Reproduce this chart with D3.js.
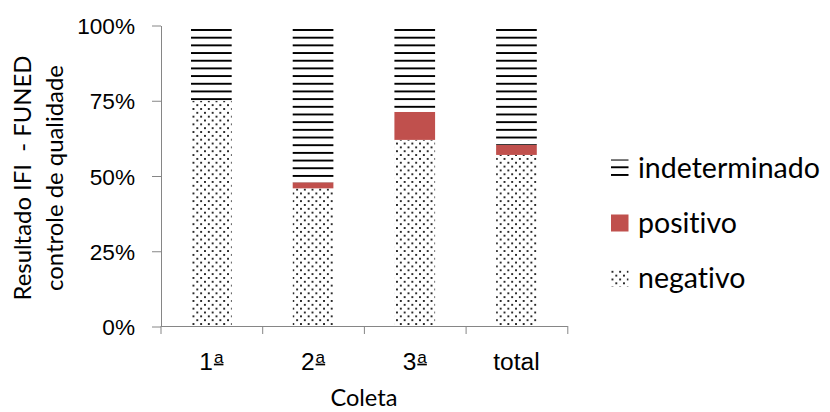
<!DOCTYPE html>
<html>
<head>
<meta charset="utf-8">
<script src="https://cdn.jsdelivr.net/npm/d3@7"></script>
<style>
  html, body { margin: 0; padding: 0; background: #fff; }
  svg { display: block; font-family: Lato, "Open Sans", sans-serif; }
  text { white-space: pre; font-variant-ligatures: none; font-feature-settings: "liga" 0, "clig" 0; }
</style>
</head>
<body>
<svg id="chart" width="830" height="412"></svg>
<script>
// Resultado IFI (FUNED) por coleta — 100% stacked columns
const categories    = ["1ª", "2ª", "3ª", "total"];
const negativo      = [0.75, 0.459, 0.62, 0.57];
const positivo      = [0.00, 0.020, 0.093, 0.033];
const indeterminado = [0.25, 0.521, 0.287, 0.397];
const seriesKeys    = ["negativo", "positivo", "indeterminado"];
const legendKeys    = ["indeterminado", "positivo", "negativo"];
const yTickValues   = [0, 0.25, 0.5, 0.75, 1];
const yTickLabels   = ["0%", "25%", "50%", "75%", "100%"];
const xTitle        = "Coleta";
const yTitleLines   = ["Resultado IFI  - FUNED", "controle de qualidade"];

const svg = d3.select("#chart");
const plot = { left: 160.5, right: 567.3, top: 25.5, bottom: 326.5 };
const axisColor = "#868686";

// font sizes chosen so the text runs to the widths of the original typeface
const measure = (txt, size) => {
  const t = svg.append("text").attr("font-size", size).text(txt);
  const w = t.node().getComputedTextLength();
  t.remove();
  return w;
};
const sizeFor = (txt, width) => 100 * width / measure(txt, 100);
const tickFont   = sizeFor("100%", 57.5);
const catFont    = sizeFor("total", 49.2);
const xTitleFont = sizeFor("Coleta", 67);
const yTitleFont = sizeFor("controle de qualidade", 226);
const legendFont = sizeFor("positivo", 99);

// scales
const x = d3.scaleBand().domain(categories)
  .range([plot.left, plot.right]).paddingInner(0.6).paddingOuter(0.3);
const xEdge = d3.scaleLinear().domain([0, categories.length]).range([plot.left, plot.right]);
const y = d3.scaleLinear().domain([0, 1]).range([plot.bottom, plot.top]);

// fill patterns: light horizontal lines and a 20% dot screen
const px = 1.92;
const defs = svg.append("defs");
const hz = defs.append("pattern").attr("id", "pat-ind")
  .attr("patternUnits", "userSpaceOnUse")
  .attr("x", 0).attr("y", 29.04)
  .attr("width", 4 * px).attr("height", 4 * px);
hz.append("rect").attr("width", 4 * px).attr("height", 4 * px).attr("fill", "#fff");
hz.append("rect").attr("width", 4 * px).attr("height", px).attr("fill", "#000");

const dots = defs.append("pattern").attr("id", "pat-neg")
  .attr("patternUnits", "userSpaceOnUse")
  .attr("x", 0.5).attr("y", 0.5)
  .attr("width", 4 * px).attr("height", 4 * px);
dots.append("rect").attr("width", 4 * px).attr("height", 4 * px).attr("fill", "#fff");
dots.append("rect").attr("x", 0).attr("y", 0).attr("width", px).attr("height", px).attr("fill", "#2a2a2a");
dots.append("rect").attr("x", 2 * px).attr("y", 2 * px).attr("width", px).attr("height", px).attr("fill", "#2a2a2a");

const fills = { negativo: "url(#pat-neg)", positivo: "#C0504D", indeterminado: "url(#pat-ind)" };

// stacked bars
const table = categories.map((c, i) => ({
  cat: c, negativo: negativo[i], positivo: positivo[i], indeterminado: indeterminado[i]
}));
const stacked = d3.stack().keys(seriesKeys)(table);

svg.append("g").selectAll("g").data(stacked).join("g")
  .attr("fill", d => fills[d.key])
  .selectAll("rect").data(d => d).join("rect")
  .attr("x", d => x(d.data.cat))
  .attr("width", x.bandwidth())
  .attr("y", d => y(d[1]))
  .attr("height", d => y(d[0]) - y(d[1]));

// y axis
const yAxis = svg.append("g").attr("transform", `translate(${Math.floor(plot.left) + 1},0)`)
  .call(d3.axisLeft(y).tickValues(yTickValues)
    .tickFormat((d, i) => yTickLabels[i]).tickSize(9).tickSizeOuter(0).tickPadding(17));
yAxis.selectAll("path, line").attr("stroke", axisColor);
yAxis.selectAll("text").attr("font-size", tickFont).attr("font-family", null)
  .attr("fill", "#000").attr("dy", "0.36em");

// x axis: line with ticks between categories
const xAxis = svg.append("g").attr("transform", `translate(0,${Math.floor(plot.bottom)})`)
  .call(d3.axisBottom(xEdge).tickValues(d3.range(categories.length + 1))
    .tickFormat("").tickSize(8).tickSizeOuter(0));
xAxis.selectAll("path, line").attr("stroke", axisColor);

// category labels; the ordinal sign is drawn as a raised, underlined "a"
const xLabels = svg.append("g").attr("transform", `translate(0,${Math.floor(plot.bottom)})`)
  .call(d3.axisBottom(x).tickSize(0));
xLabels.select(".domain").remove();
xLabels.selectAll("text").attr("font-size", catFont).attr("font-family", null)
  .attr("fill", "#000").attr("y", 44).attr("dy", null)
  .each(function (d) {
    if (!d.endsWith("ª")) return;
    const t = d3.select(this).text(null);
    t.append("tspan").text(d.slice(0, -1));
    t.append("tspan")
      .attr("dx", 1)
      .attr("dy", -catFont * 0.3)
      .attr("font-size", catFont * 0.7)
      .style("text-decoration", "underline")
      .style("text-decoration-thickness", "1.8px")
      .style("text-underline-offset", "1.5px")
      .text("a");
  });

// axis titles
svg.append("text")
  .attr("x", (plot.left + plot.right) / 2).attr("y", 406)
  .attr("text-anchor", "middle").attr("font-size", xTitleFont)
  .text(xTitle);

const yTitle = svg.append("g").attr("transform", `translate(0,${(plot.top + plot.bottom) / 2 + 2}) rotate(-90)`);
yTitle.selectAll("text").data(yTitleLines).join("text")
  .attr("x", 0).attr("y", (d, i) => 31 + i * 32)
  .attr("text-anchor", "middle").attr("font-size", yTitleFont)
  .text(d => d);

// legend
const legend = svg.append("g").attr("transform", "translate(611,0)");
const rowY = d3.scalePoint().domain(legendKeys).range([168, 278]);
const rows = legend.selectAll("g").data(legendKeys).join("g")
  .attr("transform", d => `translate(0,${rowY(d)})`);
rows.append("rect")
  .attr("x", 0).attr("y", -8.5).attr("width", 17.5).attr("height", 17)
  .attr("fill", d => fills[d]);
rows.append("text")
  .attr("x", 27).attr("y", 9.5)
  .attr("font-size", legendFont)
  .text(d => d);
</script>
</body>
</html>
